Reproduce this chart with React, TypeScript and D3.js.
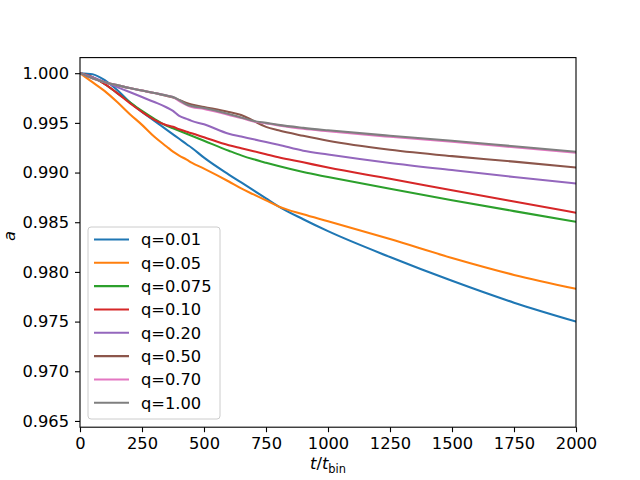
import * as d3 from "d3";
import { useEffect, useRef } from "react";

// time axis samples (t / t_bin)
const times = [0, 50, 100, 150, 200, 250, 300, 350, 375, 400, 430, 450, 500, 600, 650, 700, 750, 800, 900, 1000, 1250, 1500, 1750, 2000];

const q001 = [1.0, 0.9999, 0.9993, 0.9983, 0.9971, 0.9961, 0.9952, 0.9943, 0.99385, 0.9934, 0.99285, 0.9925, 0.9915, 0.9898, 0.989, 0.9882, 0.9874, 0.9866, 0.9853, 0.9841, 0.9815, 0.9791, 0.9769, 0.975];
const q005 = [1.0, 0.9991, 0.9982, 0.9971, 0.9959, 0.9948, 0.9936, 0.9926, 0.9921, 0.9917, 0.9913, 0.991, 0.9904, 0.9891, 0.9884, 0.9878, 0.9872, 0.9866, 0.9858, 0.9851, 0.9833, 0.9814, 0.9797, 0.9783];
const q0075 = [1.0, 0.9996, 0.9989, 0.998, 0.9971, 0.9962, 0.9954, 0.9947, 0.99445, 0.9942, 0.9939, 0.9937, 0.9932, 0.9922, 0.99173, 0.99133, 0.99098, 0.99065, 0.99005, 0.98955, 0.98836, 0.98722, 0.98612, 0.98505];
const q010 = [1.0, 0.9996, 0.9989, 0.998, 0.997, 0.9961, 0.9953, 0.99475, 0.9946, 0.99435, 0.9941, 0.99395, 0.99355, 0.99275, 0.99245, 0.99215, 0.99185, 0.99155, 0.99103, 0.9905, 0.98938, 0.98822, 0.98708, 0.98595];
const q020 = [1.0, 0.9996, 0.9991, 0.9986, 0.9981, 0.9976, 0.9971, 0.99655, 0.9962, 0.9957, 0.9954, 0.9952, 0.99485, 0.9939, 0.99362, 0.99335, 0.99307, 0.9928, 0.9922, 0.99182, 0.99097, 0.99025, 0.98955, 0.9889];
const q050 = [1.0, 0.9995, 0.9991, 0.9988, 0.9985, 0.99825, 0.998, 0.9977, 0.99755, 0.9973, 0.997, 0.99685, 0.9966, 0.9961, 0.9958, 0.9952, 0.9946, 0.99425, 0.9937, 0.9932, 0.9923, 0.99165, 0.9911, 0.9905];
const q070 = [1.0, 0.9995, 0.9991, 0.9988, 0.9985, 0.99825, 0.998, 0.99775, 0.9976, 0.9972, 0.9968, 0.9966, 0.9964, 0.9958, 0.9955, 0.99515, 0.99495, 0.99475, 0.9944, 0.99415, 0.9936, 0.9931, 0.99255, 0.992];
const q100 = [1.0, 0.9995, 0.9991, 0.9988, 0.9985, 0.99825, 0.998, 0.99775, 0.9976, 0.9973, 0.99685, 0.9967, 0.9965, 0.9959, 0.99555, 0.9952, 0.995, 0.9948, 0.9945, 0.99425, 0.9937, 0.9932, 0.99265, 0.9921];

const seriesLabels = ["q=0.01", "q=0.05", "q=0.075", "q=0.10", "q=0.20", "q=0.50", "q=0.70", "q=1.00"];
const seriesValues = [q001, q005, q0075, q010, q020, q050, q070, q100];
const colors = ["#1f77b4", "#ff7f0e", "#2ca02c", "#d62728", "#9467bd", "#8c564b", "#e377c2", "#7f7f7f"];

const xTicks = [0, 250, 500, 750, 1000, 1250, 1500, 1750, 2000];
const yTicks = [0.965, 0.97, 0.975, 0.98, 0.985, 0.99, 0.995, 1.0];

const width = 640;
const height = 480;
const marginLeft = 80;
const marginRight = 64;
const marginTop = 57.6;
const marginBottom = 52.8;
const font = "DejaVu Sans, sans-serif";
const fontSize = 16.3;

const App = () => {
    const ref = useRef<SVGSVGElement>(null);

    useEffect(() => {
        const svg = d3.select(ref.current);
        svg.selectAll("*").remove();

        const x = d3.scaleLinear()
            .domain([0, 2000])
            .range([marginLeft, width - marginRight]);

        const y = d3.scaleLinear()
            .domain([0.96437, 1.00157])
            .range([height - marginBottom, marginTop]);

        svg.append("rect")
            .attr("width", width)
            .attr("height", height)
            .attr("fill", "white");

        // clip lines to the axes box
        svg.append("defs").append("clipPath")
            .attr("id", "plot-clip")
            .append("rect")
            .attr("x", marginLeft)
            .attr("y", marginTop)
            .attr("width", width - marginLeft - marginRight)
            .attr("height", height - marginTop - marginBottom);

        const line = d3.line<[number, number]>()
            .x(d => x(d[0]))
            .y(d => y(d[1]))
            .curve(d3.curveMonotoneX);

        svg.append("g")
            .attr("clip-path", "url(#plot-clip)")
            .selectAll("path")
            .data(seriesValues)
            .join("path")
            .attr("fill", "none")
            .attr("stroke", (_, i) => colors[i])
            .attr("stroke-width", 2.08)
            .attr("stroke-linejoin", "round")
            .attr("stroke-linecap", "square")
            .attr("d", vals => line(vals.map((v, i) => [times[i], v] as [number, number])));

        const xAxis = svg.append("g")
            .attr("transform", `translate(0,${height - marginBottom})`)
            .call(d3.axisBottom(x).tickValues(xTicks).tickSize(5).tickPadding(5.5).tickFormat(d3.format("d")));

        const yAxis = svg.append("g")
            .attr("transform", `translate(${marginLeft},0)`)
            .call(d3.axisLeft(y).tickValues(yTicks).tickSize(5).tickPadding(6).tickFormat(d3.format(".3f")));

        [xAxis, yAxis].forEach(g => {
            g.select(".domain").remove();
            g.selectAll(".tick line").attr("stroke", "black").attr("stroke-width", 1.1);
            g.selectAll(".tick text")
                .attr("fill", "black")
                .style("font-family", font)
                .style("font-size", `${fontSize}px`);
        });

        // axes frame
        svg.append("rect")
            .attr("x", marginLeft)
            .attr("y", marginTop)
            .attr("width", width - marginLeft - marginRight)
            .attr("height", height - marginTop - marginBottom)
            .attr("fill", "none")
            .attr("stroke", "black")
            .attr("stroke-width", 1.1);

        // x label: t / t_bin
        const xLabel = svg.append("text")
            .attr("x", (marginLeft + width - marginRight) / 2)
            .attr("y", 469)
            .attr("text-anchor", "middle")
            .style("font-family", font)
            .style("font-size", `${fontSize}px`);
        xLabel.append("tspan").style("font-style", "italic").text("t");
        xLabel.append("tspan").text("/");
        xLabel.append("tspan").style("font-style", "italic").text("t");
        xLabel.append("tspan").attr("dy", 3.5).style("font-size", "11.4px").text("bin");

        svg.append("text")
            .attr("transform", `translate(14.5,236) rotate(-90)`)
            .attr("text-anchor", "middle")
            .style("font-family", font)
            .style("font-size", `${fontSize}px`)
            .style("font-style", "italic")
            .text("a");

        // legend
        const legend = svg.append("g");
        legend.append("rect")
            .attr("x", 88)
            .attr("y", 227)
            .attr("width", 132)
            .attr("height", 192)
            .attr("rx", 3)
            .attr("fill", "white")
            .attr("fill-opacity", 0.8)
            .attr("stroke", "#cccccc")
            .attr("stroke-width", 1);

        const rows = legend.selectAll("g.row")
            .data(seriesLabels)
            .join("g")
            .attr("class", "row")
            .attr("transform", (_, i) => `translate(0,${239.5 + i * 23.33})`);

        rows.append("line")
            .attr("x1", 94)
            .attr("x2", 129)
            .attr("stroke", (_, i) => colors[i])
            .attr("stroke-width", 2.08);

        rows.append("text")
            .attr("x", 141)
            .attr("y", 5.8)
            .style("font-family", font)
            .style("font-size", `${fontSize}px`)
            .text(d => d);
    }, []);

    return <svg ref={ref} width={width} height={height} style={{ position: "absolute", left: 0, top: 0 }} />;
};

export default App;
